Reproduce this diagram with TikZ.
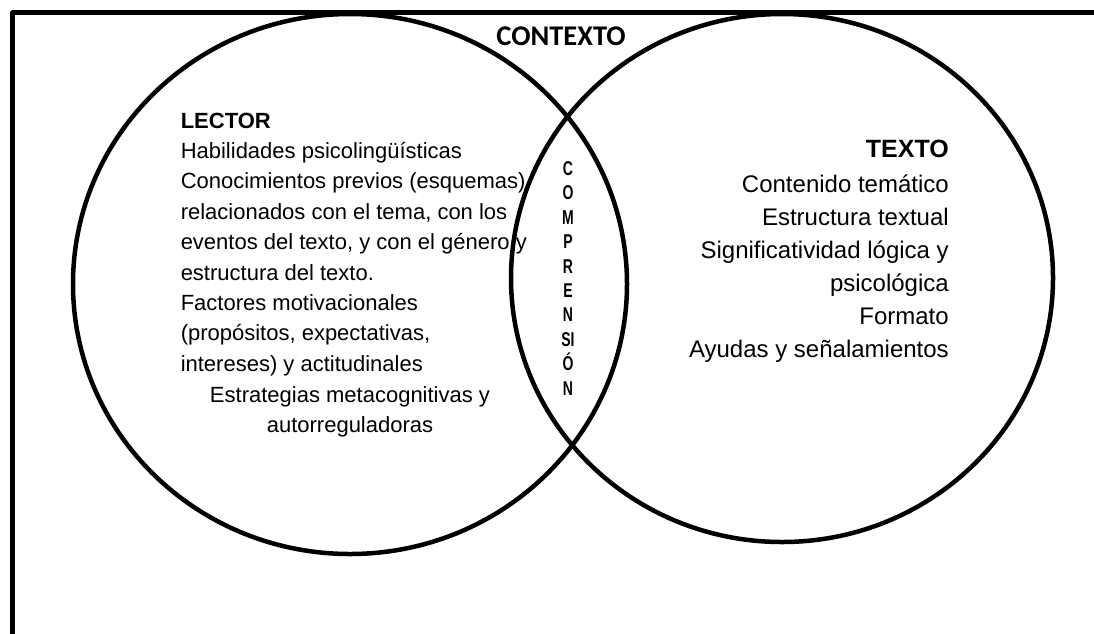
\documentclass[tikz,border=0pt]{standalone}
\usepackage{fontspec}
\setmainfont{Liberation Sans}
\newfontfamily\ctxfont{Carlito}
\usetikzlibrary{positioning}

\begin{document}
\begin{tikzpicture}[x=1pt,y=-1pt,line join=round,line cap=round,line width=4.5pt]
\useasboundingbox (0,0) rectangle (1094,633);
\clip (0,0) rectangle (1094,633);
\coordinate (L) at (350,284);
\coordinate (T) at (782,278);
\coordinate (F) at (12.5,12.5);
\draw (F|-0,700)--(F)--(1200,12.5);
\draw (L) ellipse [x radius=277pt,y radius=270pt];
\draw (T) ellipse [x radius=271pt,y radius=264pt];
\node[anchor=base,font=\ctxfont\bfseries\fontsize{28.5}{30}\selectfont] (ctx) at (561,45) {CONTEXTO};
% lector
\foreach \t [count=\k from 0] in {{\textbf{LECTOR}},{Habilidades psicolingüísticas},{Conocimientos previos (esquemas)},{relacionados con el tema, con los},{eventos del texto, y con el género y},{estructura del texto.},{Factores motivacionales},{(propósitos, expectativas,},{intereses) y actitudinales}}
 {\node[anchor=base west,inner sep=0pt,font=\fontsize{22}{26}\selectfont] (lec\k) at (178.5,128+30.4*\k) {\t};}
\node[anchor=base,inner sep=0pt,font=\fontsize{22}{26}\selectfont] (lec9) at (350,402) {Estrategias metacognitivas y};
\node[anchor=base,inner sep=0pt,font=\fontsize{22}{26}\selectfont] (lec10) at (350,432) {autorreguladoras};
% texto
\node[anchor=base east,inner sep=0pt,font=\bfseries\fontsize{25}{28}\selectfont] (tex) at (951,157) {TEXTO};
\foreach \t [count=\k from 0] in {Contenido temático,Estructura textual,Significatividad lógica y,psicológica,Formato,Ayudas y señalamientos}
 {\node[anchor=base east,inner sep=0pt,font=\fontsize{24}{28}\selectfont] (tex\k) at (951,192+33*\k) {\t};}
% comprension
\foreach \l [count=\k from 0] in {C,O,M,P,R,E,N,SI,Ó,N}
 {\node[anchor=base,inner sep=0pt,xscale=0.7,font=\bfseries\fontsize{20}{20}\selectfont] (com\k) at (568,175.5+24.4*\k) {\l};}
\end{tikzpicture}
\end{document}
